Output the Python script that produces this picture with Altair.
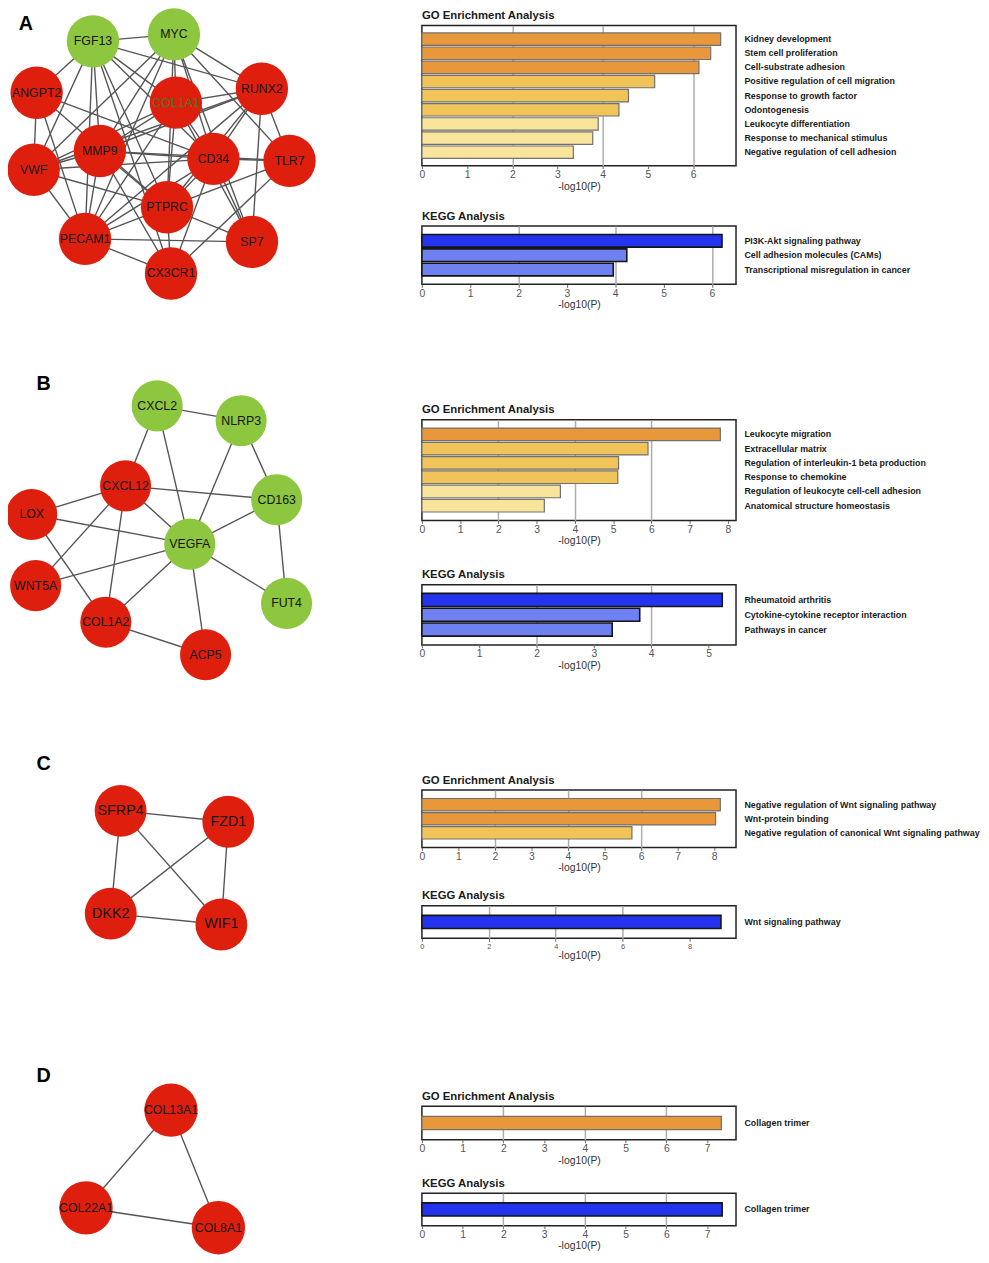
import altair as alt
import pandas as pd

# ------------------------------------------------------------------
# Network data (node layout coordinates)
# ------------------------------------------------------------------
A_genes = ["FGF13", "MYC", "ANGPT2", "COL1A1", "RUNX2", "MMP9", "CD34", "TLR7",
           "VWF", "PTPRC", "PECAM1", "SP7", "CX3CR1"]
A_x = [90, 172, 33, 174, 261, 97, 212, 289, 30, 165, 82, 251, 169]
A_y = [35, 28, 87, 97, 83, 146, 154, 156, 165, 203, 235, 238, 270]
A_group = ["down", "down", "up", "up", "up", "up", "up", "up", "up", "up", "up", "up", "up"]
A_edges = [
    ("FGF13", "MYC"), ("FGF13", "ANGPT2"), ("FGF13", "VWF"), ("FGF13", "MMP9"),
    ("FGF13", "PECAM1"), ("FGF13", "COL1A1"), ("FGF13", "CD34"), ("FGF13", "PTPRC"),
    ("FGF13", "RUNX2"), ("FGF13", "CX3CR1"),
    ("MYC", "COL1A1"), ("MYC", "RUNX2"), ("MYC", "MMP9"), ("MYC", "CD34"),
    ("MYC", "PTPRC"), ("MYC", "PECAM1"), ("MYC", "VWF"), ("MYC", "TLR7"), ("MYC", "SP7"),
    ("ANGPT2", "VWF"), ("ANGPT2", "PECAM1"), ("ANGPT2", "CD34"), ("ANGPT2", "PTPRC"),
    ("COL1A1", "RUNX2"), ("COL1A1", "MMP9"), ("COL1A1", "CD34"), ("COL1A1", "PTPRC"),
    ("COL1A1", "PECAM1"), ("COL1A1", "VWF"), ("COL1A1", "SP7"),
    ("RUNX2", "CD34"), ("RUNX2", "MMP9"), ("RUNX2", "PTPRC"), ("RUNX2", "PECAM1"),
    ("RUNX2", "TLR7"), ("RUNX2", "SP7"), ("RUNX2", "VWF"),
    ("MMP9", "CD34"), ("MMP9", "VWF"), ("MMP9", "PECAM1"), ("MMP9", "PTPRC"),
    ("MMP9", "CX3CR1"), ("MMP9", "TLR7"),
    ("CD34", "TLR7"), ("CD34", "PTPRC"), ("CD34", "PECAM1"), ("CD34", "VWF"),
    ("CD34", "SP7"), ("CD34", "CX3CR1"),
    ("VWF", "PECAM1"), ("VWF", "PTPRC"),
    ("PTPRC", "PECAM1"), ("PTPRC", "SP7"), ("PTPRC", "TLR7"), ("PTPRC", "CX3CR1"),
    ("PECAM1", "SP7"), ("PECAM1", "CX3CR1"), ("CX3CR1", "TLR7"),
]

B_genes = ["CXCL2", "NLRP3", "CXCL12", "CD163", "LOX", "VEGFA", "WNT5A", "FUT4", "COL1A2", "ACP5"]
B_x = [155, 240, 123, 276, 28, 188, 32, 286, 103, 204]
B_y = [403, 418, 484, 498, 513, 543, 585, 603, 622, 655]
B_group = ["down", "down", "up", "down", "up", "down", "up", "down", "up", "up"]
B_edges = [
    ("CXCL2", "NLRP3"), ("CXCL2", "CXCL12"), ("CXCL2", "VEGFA"), ("NLRP3", "VEGFA"),
    ("NLRP3", "CD163"), ("CXCL12", "CD163"), ("CXCL12", "LOX"), ("CXCL12", "VEGFA"),
    ("CXCL12", "WNT5A"), ("CXCL12", "COL1A2"), ("LOX", "VEGFA"), ("LOX", "COL1A2"),
    ("VEGFA", "CD163"), ("VEGFA", "WNT5A"), ("VEGFA", "FUT4"), ("VEGFA", "COL1A2"),
    ("VEGFA", "ACP5"), ("CD163", "FUT4"), ("COL1A2", "ACP5"),
]

C_genes = ["SFRP4", "FZD1", "DKK2", "WIF1"]
C_x = [118, 227, 108, 220]
C_y = [812, 823, 916, 927]
C_group = ["up", "up", "up", "up"]
C_edges = [("SFRP4", "FZD1"), ("SFRP4", "DKK2"), ("SFRP4", "WIF1"),
           ("FZD1", "DKK2"), ("FZD1", "WIF1"), ("DKK2", "WIF1")]

D_genes = ["COL13A1", "COL22A1", "COL8A1"]
D_x = [169, 83, 217]
D_y = [1115, 1214, 1234]
D_group = ["up", "up", "up"]
D_edges = [("COL13A1", "COL22A1"), ("COL13A1", "COL8A1"), ("COL22A1", "COL8A1")]

# ------------------------------------------------------------------
# Enrichment data
# ------------------------------------------------------------------
GO_A_terms = ["Kidney development", "Stem cell proliferation", "Cell-substrate adhesion",
              "Positive regulation of cell migration", "Response to growth factor",
              "Odontogenesis", "Leukocyte differentiation", "Response to mechanical stimulus",
              "Negative regulation of cell adhesion"]
GO_A_vals = [6.61, 6.39, 6.13, 5.15, 4.57, 4.36, 3.90, 3.78, 3.35]
GO_A_tier = [1, 1, 1, 2, 2, 2, 3, 3, 3]

KEGG_A_terms = ["PI3K-Akt signaling pathway", "Cell adhesion molecules (CAMs)",
                "Transcriptional misregulation in cancer"]
KEGG_A_vals = [6.21, 4.24, 3.96]
KEGG_A_tier = [1, 2, 2]

GO_B_terms = ["Leukocyte migration", "Extracellular matrix",
              "Regulation of interleukin-1 beta production", "Response to chemokine",
              "Regulation of leukocyte cell-cell adhesion", "Anatomical structure homeostasis"]
GO_B_vals = [7.80, 5.91, 5.14, 5.12, 3.62, 3.20]
GO_B_tier = [1, 2, 2, 2, 3, 3]

KEGG_B_terms = ["Rheumatoid arthritis", "Cytokine-cytokine receptor interaction", "Pathways in cancer"]
KEGG_B_vals = [5.24, 3.80, 3.32]
KEGG_B_tier = [1, 2, 2]

GO_C_terms = ["Negative regulation of Wnt signaling pathway", "Wnt-protein binding",
              "Negative regulation of canonical Wnt signaling pathway"]
GO_C_vals = [8.17, 8.04, 5.75]
GO_C_tier = [1, 1, 2]

KEGG_C_terms = ["Wnt signaling pathway"]
KEGG_C_vals = [8.94]
KEGG_C_tier = [1]

GO_D_terms = ["Collagen trimer"]
GO_D_vals = [7.35]
GO_D_tier = [1]

KEGG_D_terms = ["Collagen trimer"]
KEGG_D_vals = [7.37]
KEGG_D_tier = [1]

# axis extents and tick labels
GO_A_max, KEGG_A_max = 6.95, 6.5
GO_B_max, KEGG_B_max = 8.21, 5.48
GO_C_max, KEGG_C_max = 8.6, 9.39
GO_D_max, KEGG_D_max = 7.71, 7.71
GO_A_ticks = [0, 1, 2, 3, 4, 5, 6]
KEGG_A_ticks = [0, 1, 2, 3, 4, 5, 6]
GO_B_ticks = [0, 1, 2, 3, 4, 5, 6, 7, 8]
KEGG_B_ticks = [0, 1, 2, 3, 4, 5]
GO_C_ticks = [0, 1, 2, 3, 4, 5, 6, 7, 8]
KEGG_C_ticks = [0, 2, 4, 6, 8]
GO_D_ticks = [0, 1, 2, 3, 4, 5, 6, 7]
KEGG_D_ticks = [0, 1, 2, 3, 4, 5, 6, 7]

# ------------------------------------------------------------------
# Styling
# ------------------------------------------------------------------
FONT = "Liberation Sans"
RED = "#DF1F0E"
GREEN = "#8DC63F"
GO_COLORS = ["#E8983A", "#F1C45A", "#F8E49B"]
KEGG_COLORS = ["#2434EE", "#6F80F0"]
WN = 330          # width of network panels
BW = 318          # width of bar plots


def network(genes, xs, ys, groups, edges, letter, lx, ly, top, h, node_size, font_size):
    nodes = pd.DataFrame({"gene": genes, "x": xs, "y": ys, "group": groups})
    pos = {g: (x, y) for g, x, y in zip(genes, xs, ys)}
    e = pd.DataFrame({
        "x": [pos[a][0] for a, b in edges], "y": [pos[a][1] for a, b in edges],
        "x2": [pos[b][0] for a, b in edges], "y2": [pos[b][1] for a, b in edges],
    })
    xsc = alt.Scale(domain=[0, WN])
    ysc = alt.Scale(domain=[top, top + h], reverse=True)
    X = alt.X("x:Q", scale=xsc, axis=None)
    Y = alt.Y("y:Q", scale=ysc, axis=None)
    lines = alt.Chart(e).mark_rule(color="#555555", strokeWidth=1.4).encode(
        x=X, y=Y, x2="x2:Q", y2="y2:Q")
    circles = alt.Chart(nodes).mark_circle(size=node_size, opacity=1).encode(
        x=X, y=Y,
        color=alt.Color("group:N", scale=alt.Scale(domain=["up", "down"], range=[RED, GREEN]),
                        legend=None))
    labels = alt.Chart(nodes).mark_text(font=FONT, fontSize=font_size, baseline="middle",
                                        align="center").encode(
        x=X, y=Y, text="gene:N",
        color=alt.condition("datum.gene == 'COL1A1'", alt.value("#4d7628"), alt.value("#151515")))
    let = alt.Chart(pd.DataFrame({"t": [letter], "x": [lx], "y": [ly]})).mark_text(
        font=FONT, fontSize=20, fontWeight="bold", color="black",
        baseline="middle", align="center").encode(x=X, y=Y, text="t:N")
    return alt.layer(lines, circles, labels, let).properties(width=WN, height=h)


def bars(terms, vals, tiers, dmax, ticks, title, colors, height, p_outer, gap,
         stroke, stroke_w, tick_fs=10.5):
    df = pd.DataFrame({"term": terms, "val": vals, "tier": tiers})
    grid_test = "datum.value > 0 && datum.value % 2 == 0 && datum.value <= 6"
    x = alt.X("val:Q",
              scale=alt.Scale(domain=[0, dmax], nice=False, zero=True),
              axis=alt.Axis(values=ticks, title="-log10(P)", labelFlush=False, domain=False,
                            tickSize=3, tickColor="#666666", labelFont=FONT,
                            labelFontSize=tick_fs, labelColor="#555555", labelPadding=1,
                            titleFont=FONT, titleFontSize=10.5, titleFontWeight="normal",
                            titleColor="#333333", titlePadding=1,
                            grid=True, gridColor="#adadad", gridWidth=1.5,
                            gridOpacity={"condition": {"test": grid_test, "value": 1}, "value": 0}))
    y = alt.Y("term:N", sort=None,
              scale=alt.Scale(paddingInner=0.12, paddingOuter=p_outer),
              axis=alt.Axis(orient="right", title=None, ticks=False, domain=False,
                            labelFont=FONT, labelFontWeight="bold", labelFontSize=9,
                            labelColor="#1a1a1a", labelPadding=8, labelLimit=400))
    col = alt.Color("tier:N", scale=alt.Scale(domain=list(range(1, len(colors) + 1)), range=colors),
                    legend=None)
    if gap:
        tp = alt.TitleParams(text=["", title], anchor="start", frame="group", font=FONT,
                             fontSize=11.5, fontWeight="bold", color="#1a1a1a", offset=4,
                             lineHeight=gap)
    else:
        tp = alt.TitleParams(text=title, anchor="start", frame="group", font=FONT,
                             fontSize=11.5, fontWeight="bold", color="#1a1a1a", offset=4)
    return alt.Chart(df, title=tp).mark_bar(stroke=stroke, strokeWidth=stroke_w).encode(
        x=x, y=y, color=col).properties(
        width=BW, height=height, view=alt.ViewBackground(stroke="#222222", strokeWidth=1.5))


GO_STROKE, GO_SW = "#707070", 1.2
KG_STROKE, KG_SW = "#151515", 1.6

netA = network(A_genes, A_x, A_y, A_group, A_edges, "A", 22, 18, 19, 351, 2809, 12.5)
netB = network(B_genes, B_x, B_y, B_group, B_edges, "B", 40, 381, 371, 383, 2673, 12.5)
netC = network(C_genes, C_x, C_y, C_group, C_edges, "C", 40, 765, 755, 313, 2756, 14.5)
netD = network(D_genes, D_x, D_y, D_group, D_edges, "D", 40, 1080, 1073, 190, 2916, 12.5)

goA = bars(GO_A_terms, GO_A_vals, GO_A_tier, GO_A_max, GO_A_ticks, "GO Enrichment Analysis",
           GO_COLORS, 142, 0.52, 0, GO_STROKE, GO_SW)
keggA = bars(KEGG_A_terms, KEGG_A_vals, KEGG_A_tier, KEGG_A_max, KEGG_A_ticks, "KEGG Analysis",
             KEGG_COLORS, 59, 0.59, 17.2, KG_STROKE, KG_SW)
goB = bars(GO_B_terms, GO_B_vals, GO_B_tier, GO_B_max, GO_B_ticks, "GO Enrichment Analysis",
           GO_COLORS, 102, 0.59, 93.2, GO_STROKE, GO_SW)
keggB = bars(KEGG_B_terms, KEGG_B_vals, KEGG_B_tier, KEGG_B_max, KEGG_B_ticks, "KEGG Analysis",
             KEGG_COLORS, 61, 0.59, 21.2, KG_STROKE, KG_SW)
goC = bars(GO_C_terms, GO_C_vals, GO_C_tier, GO_C_max, GO_C_ticks, "GO Enrichment Analysis",
           GO_COLORS, 58, 0.6, 103.2, GO_STROKE, GO_SW)
keggC = bars(KEGG_C_terms, KEGG_C_vals, KEGG_C_tier, KEGG_C_max, KEGG_C_ticks, "KEGG Analysis",
             KEGG_COLORS, 33, 0.649, 14.8, KG_STROKE, KG_SW, tick_fs=7.5)
goD = bars(GO_D_terms, GO_D_vals, GO_D_tier, GO_D_max, GO_D_ticks, "GO Enrichment Analysis",
           GO_COLORS, 34, 0.678, 128.8, GO_STROKE, GO_SW)
keggD = bars(KEGG_D_terms, KEGG_D_vals, KEGG_D_tier, KEGG_D_max, KEGG_D_ticks, "KEGG Analysis",
             KEGG_COLORS, 33, 0.649, 9.8, KG_STROKE, KG_SW)

left = alt.vconcat(netA, netB, netC, netD, spacing=0).resolve_scale(color="independent")
right = alt.vconcat(goA, keggA, goB, keggB, goC, keggC, goD, keggD, spacing=0).resolve_scale(
    color="independent")

chart = alt.hconcat(left, right, spacing=88,
                    padding={"top": -8, "left": -5, "right": 0, "bottom": 0}).resolve_scale(
    color="independent").configure_view(stroke="transparent")

chart.save("out.html", embed_options={"renderer": "svg", "actions": False})
